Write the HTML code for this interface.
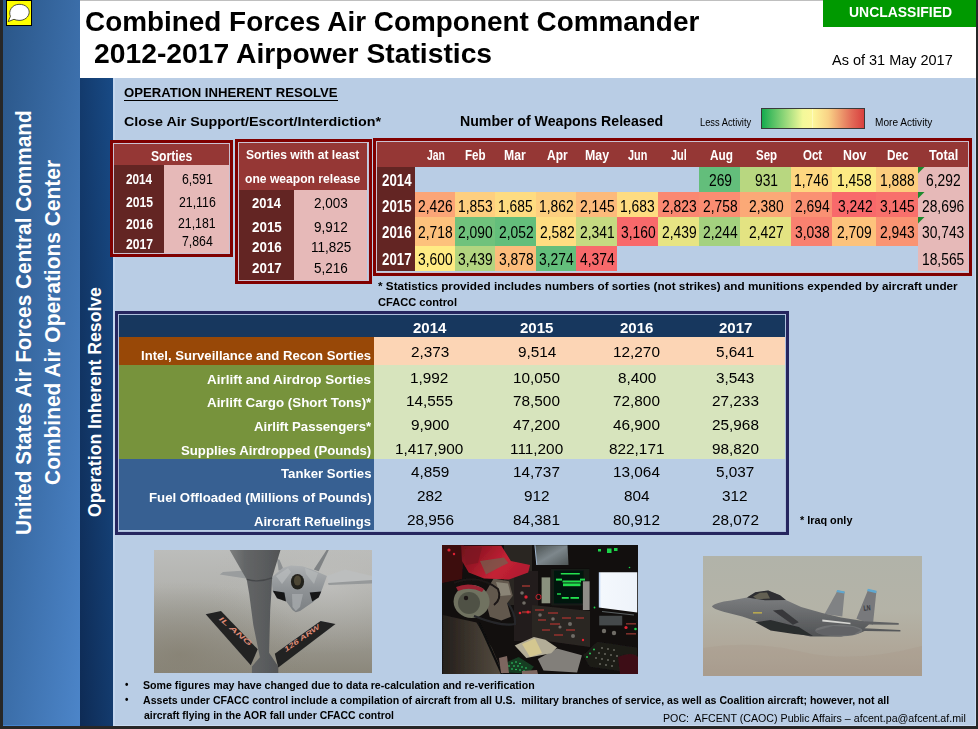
<!DOCTYPE html>
<html lang="en"><head><meta charset="utf-8"><title>Combined Forces Air Component Commander 2012-2017 Airpower Statistics</title>
<style>
html,body{margin:0;padding:0;background:#272727;}
#slide{position:relative;width:978px;height:729px;overflow:hidden;background:#b9cde5;font-family:"Liberation Sans",sans-serif;}
#slide div,#slide svg{position:absolute;}
.t{position:absolute;white-space:pre;line-height:1;transform-origin:0 0;font-family:"Liberation Sans",sans-serif;}
.frame-l{background:#272727;left:0;top:0;width:3px;height:729px;}
.frame-r{background:#272727;left:976px;top:0;width:2px;height:729px;}
.frame-b{background:#272727;left:0;top:726px;width:978px;height:3px;}
.side1{left:3px;top:0;width:77px;height:726px;background:linear-gradient(to bottom right,#2a5688 0%,#4c85c9 100%);}
.side2{left:80px;top:78px;width:33px;height:648px;background:linear-gradient(to top right,#0e2b55 0%,#184a85 100%);}
.hdr{left:80px;top:0;width:896px;height:78px;background:#fff;border-top:1px solid #bfbfbf;box-sizing:border-box;}
.uncl{left:823px;top:0;width:153px;height:27px;background:#009900;}
.note{left:6px;top:0;width:26px;height:26px;}
.box{box-sizing:border-box;border:3px solid #800000;}
.box > .in{left:0;top:0;right:0;bottom:0;border:1px solid #cbc1d1;}
.c{position:absolute;}

</style></head>
<body>
<div id="slide">
<div class="side1"></div><div class="side2"></div>
<div class="c" style="left:113px;top:78px;width:2px;height:648px;background:#c3d6ee"></div>
<div class="hdr"></div><div class="uncl"></div>
<div class="frame-l"></div><div class="frame-r"></div><div class="frame-b"></div>
<svg class="note" viewBox="0 0 26 26" width="26" height="26"><rect x="0.5" y="0.5" width="25" height="25" fill="#ffff00" stroke="#000" stroke-width="1"/><path d="M4.4 16.3 C2.2 11.5 5.5 4.6 13 4.3 C20 4.2 23.3 8.6 23.2 12.3 C23 17 18.5 20.6 13 20.4 C11 20.3 9.3 19.9 8 19.3 L2.2 21.6 Z" fill="#fff" stroke="#222" stroke-width="0.8"/></svg>
<div class="c" style="left:975px;top:78px;width:1px;height:648px;background:#c9dbf1;"></div>
<div class="c" style="left:113px;top:725px;width:863px;height:1px;background:#c9dbf1;"></div>
<div class="c" style="left:3px;top:725px;width:77px;height:1px;background:#4685cf;"></div>
<div class="c" style="left:123.5px;top:100px;width:214px;height:1px;background:#000;"></div>
<div class="c" style="left:761px;top:108px;width:104px;height:21px;box-sizing:border-box;border:1px solid #3a3a3a;background:linear-gradient(90deg,#14ab4e 0%,#4fbf63 10%,#f3f99a 40%,#fdf79b 50%,#f9d286 65%,#e26a57 88%,#d8403f 100%)"></div>
<div class="c" style="left:812px;top:109px;width:1px;height:19px;background:rgba(255,255,255,.35);"></div>
<div class="box" style="left:110px;top:140px;width:123px;height:117px"><div class="in"></div></div>
<div class="c" style="left:114px;top:144px;width:115px;height:21px;background:#953735;"></div>
<div class="c" style="left:114px;top:165px;width:50px;height:88px;background:#632523;"></div>
<div class="c" style="left:164px;top:165px;width:65px;height:88px;background:#e6b9b8;"></div>
<div class="box" style="left:235px;top:139px;width:137px;height:145px"><div class="in"></div></div>
<div class="c" style="left:239px;top:143px;width:128.4px;height:47px;background:#953735;"></div>
<div class="c" style="left:239px;top:190px;width:55px;height:89.6px;background:#632523;"></div>
<div class="c" style="left:294px;top:190px;width:73.4px;height:89.6px;background:#e6b9b8;"></div>
<div class="box" style="left:373px;top:138px;width:599px;height:138px"><div class="in"></div></div>
<div class="c" style="left:377px;top:142px;width:591px;height:25px;background:#953735;"></div>
<div class="c" style="left:377px;top:167px;width:38px;height:104px;background:#632523;"></div>
<div class="c" style="left:699px;top:167px;width:41px;height:25px;background:#63be7b;"></div>
<div class="c" style="left:740px;top:167px;width:51px;height:25px;background:#b8d780;"></div>
<div class="c" style="left:791px;top:167px;width:41px;height:25px;background:#fed780;"></div>
<div class="c" style="left:832px;top:167px;width:44px;height:25px;background:#fcea84;"></div>
<div class="c" style="left:876px;top:167px;width:42px;height:25px;background:#fdcd7e;"></div>
<div class="c" style="left:415px;top:192px;width:40px;height:25px;background:#fba577;"></div>
<div class="c" style="left:455px;top:192px;width:40px;height:25px;background:#fecf7f;"></div>
<div class="c" style="left:495px;top:192px;width:41px;height:25px;background:#fedc81;"></div>
<div class="c" style="left:536px;top:192px;width:40px;height:25px;background:#fdcf7f;"></div>
<div class="c" style="left:576px;top:192px;width:41px;height:25px;background:#fcba7b;"></div>
<div class="c" style="left:617px;top:192px;width:41px;height:25px;background:#fedc81;"></div>
<div class="c" style="left:658px;top:192px;width:41px;height:25px;background:#fa8871;"></div>
<div class="c" style="left:699px;top:192px;width:41px;height:25px;background:#fa8d72;"></div>
<div class="c" style="left:740px;top:192px;width:51px;height:25px;background:#fba977;"></div>
<div class="c" style="left:791px;top:192px;width:41px;height:25px;background:#fa9173;"></div>
<div class="c" style="left:832px;top:192px;width:44px;height:25px;background:#f8696b;"></div>
<div class="c" style="left:876px;top:192px;width:42px;height:25px;background:#f8706c;"></div>
<div class="c" style="left:415px;top:217px;width:40px;height:29px;background:#fdc17c;"></div>
<div class="c" style="left:455px;top:217px;width:40px;height:29px;background:#70c27c;"></div>
<div class="c" style="left:495px;top:217px;width:41px;height:29px;background:#63be7b;"></div>
<div class="c" style="left:536px;top:217px;width:40px;height:29px;background:#fedd81;"></div>
<div class="c" style="left:576px;top:217px;width:41px;height:29px;background:#c5da81;"></div>
<div class="c" style="left:617px;top:217px;width:41px;height:29px;background:#f8696b;"></div>
<div class="c" style="left:658px;top:217px;width:41px;height:29px;background:#e7e483;"></div>
<div class="c" style="left:699px;top:217px;width:41px;height:29px;background:#a4d17f;"></div>
<div class="c" style="left:740px;top:217px;width:51px;height:29px;background:#e3e382;"></div>
<div class="c" style="left:791px;top:217px;width:41px;height:29px;background:#f98170;"></div>
<div class="c" style="left:832px;top:217px;width:44px;height:29px;background:#fdc37c;"></div>
<div class="c" style="left:876px;top:217px;width:42px;height:29px;background:#fa9473;"></div>
<div class="c" style="left:415px;top:246px;width:40px;height:25px;background:#ffeb84;"></div>
<div class="c" style="left:455px;top:246px;width:40px;height:25px;background:#b2d580;"></div>
<div class="c" style="left:495px;top:246px;width:41px;height:25px;background:#fcbc7b;"></div>
<div class="c" style="left:536px;top:246px;width:40px;height:25px;background:#63be7b;"></div>
<div class="c" style="left:576px;top:246px;width:41px;height:25px;background:#f8696b;"></div>
<div class="c" style="left:918px;top:167px;width:50px;height:104px;background:#e6b9b8;"></div>
<svg class="c" style="left:918px;top:167px" width="7" height="7" viewBox="0 0 7 7"><path d="M0 0H6.5L0 6.5Z" fill="#1e8a2e"/></svg>
<svg class="c" style="left:918px;top:192px" width="7" height="7" viewBox="0 0 7 7"><path d="M0 0H6.5L0 6.5Z" fill="#1e8a2e"/></svg>
<svg class="c" style="left:918px;top:217px" width="7" height="7" viewBox="0 0 7 7"><path d="M0 0H6.5L0 6.5Z" fill="#1e8a2e"/></svg>
<div class="box" style="left:115px;top:311px;width:674px;height:224px;border-color:#26265f"><div class="in" style="border-color:#aebfdc"></div></div>
<div class="c" style="left:119px;top:315px;width:666px;height:22px;background:#17375e;"></div>
<div class="c" style="left:119px;top:337px;width:255px;height:27.5px;background:#984807;"></div>
<div class="c" style="left:374px;top:337px;width:411px;height:27.5px;background:#fcd5b5;"></div>
<div class="c" style="left:119px;top:364.5px;width:255px;height:94.3px;background:#77933c;"></div>
<div class="c" style="left:374px;top:364.5px;width:411px;height:94.3px;background:#d7e4bd;"></div>
<div class="c" style="left:119px;top:458.8px;width:255px;height:71.7px;background:#376092;"></div><!-- photo 1 : tanker boom + F-22 -->
<svg class="c" style="left:154px;top:550px" width="218" height="123" viewBox="0 0 218 123">
<defs>
<linearGradient id="p1a" x1="0" y1="0" x2="0" y2="1"><stop offset="0" stop-color="#bcbdbb"/><stop offset=".3" stop-color="#b3b3af"/><stop offset=".55" stop-color="#a3a29b"/><stop offset="1" stop-color="#8b877b"/></linearGradient>
<radialGradient id="p1b" cx=".8" cy=".3" r=".55"><stop offset="0" stop-color="#c4c4c2" stop-opacity=".6"/><stop offset="1" stop-color="#b4b4b0" stop-opacity="0"/></radialGradient>
<radialGradient id="p1e" cx=".12" cy=".85" r=".6"><stop offset="0" stop-color="#827c6d" stop-opacity=".6"/><stop offset="1" stop-color="#8a877c" stop-opacity="0"/></radialGradient>
<linearGradient id="p1c" x1="0" y1="0" x2="1" y2="0"><stop offset="0" stop-color="#7e8080"/><stop offset=".3" stop-color="#646667"/><stop offset="1" stop-color="#525456"/></linearGradient>
<linearGradient id="p1d" x1="0" y1="0" x2="0" y2="1"><stop offset="0" stop-color="#adb0b2"/><stop offset=".5" stop-color="#8f9396"/><stop offset="1" stop-color="#7b7f82"/></linearGradient>
<filter id="bl1" x="-5%" y="-5%" width="110%" height="110%"><feGaussianBlur stdDeviation="0.55"/></filter>
</defs>
<rect width="218" height="123" fill="url(#p1a)"/>
<rect width="218" height="123" fill="url(#p1b)"/>
<rect width="218" height="123" fill="url(#p1e)"/>
<g filter="url(#bl1)">
<!-- F-22 -->
<path d="M65.7 24.5 L69 22 L95 20.2 L95 29Z" fill="#9a9d9e"/>
<path d="M172.9 26.1 L190.9 19.5 L218 26.1 L218 33.5 L174.6 34.3Z" fill="#bcbebe"/>
<path d="M174 33 L218 30 L218 33.5 L174.6 35Z" fill="#96999a"/>
<path d="M123 8.9 L125.5 9.7 L129.6 19.5 L124.6 20.4Z" fill="#8d9092"/>
<path d="M172.9 -0.6 L174.8 0 L164.7 21.2 L159.8 19.5Z" fill="#7f8284"/>
<path d="M117.3 27.7 L128.7 17.9 L136.9 15.5 L148.4 16.3 L158.2 19.5 L172.9 26.1 L166.4 44.1 L159.8 51.5 L146 61 L141.8 62.3 L138.5 60 L130.4 49 L118.9 42.5Z" fill="url(#p1d)"/>
<path d="M118.9 40.8 L130.4 42.5 L132 51.5 L123 48.2Z" fill="#141517"/>
<path d="M155.7 42.5 L167.2 41.6 L164.7 47.4 L158.2 51.5Z" fill="#141517"/>
<ellipse cx="143.5" cy="31.8" rx="6.6" ry="7.8" fill="#24221d"/>
<ellipse cx="143.5" cy="30.6" rx="3.6" ry="5" fill="#4d4635"/>
<path d="M138 44 L149 44 L146 57 L141.8 61 L138.5 57Z" fill="#a4a8aa" opacity=".85"/><path d="M122 26 L134 18 L137 22 L128 34Z" fill="#b9bcbd" opacity=".7"/><path d="M151 18 L164 23 L160 34 L152 24Z" fill="#b9bcbd" opacity=".6"/>
<!-- boom -->
<path d="M75.1 -1 L126.8 -1 L121 18 L118.1 27.7 L117.3 44 L116.2 60 L115.1 102.7 L124.3 116.4 L124.3 123 L97.9 123 L97.9 116.4 L105.9 107.3 L99.3 75 L95.2 44 L92.7 29.4 L86 18Z" fill="url(#p1c)"/>
<path d="M92.7 29.4 Q105 33 118.1 27.9" stroke="#45474a" stroke-width="1.2" fill="none"/>
<!-- fins -->
<path d="M51.7 64.2 L67 61 L103.7 99.2 L96.8 115.3Z" fill="#212224"/>
<path d="M120.8 103.8 L166.6 71.1 L181.5 74 L124.3 117.6Z" fill="#212224"/>
</g>
<text transform="translate(64.5 69.5) rotate(41)" font-family="Liberation Sans, sans-serif" font-size="6.8" font-style="italic" font-weight="700" fill="#dc8a76" textLength="41" lengthAdjust="spacingAndGlyphs">IL  ANG</text>
<text transform="translate(132 102) rotate(-35)" font-family="Liberation Sans, sans-serif" font-size="6.8" font-style="italic" font-weight="700" fill="#dc8a76" textLength="42" lengthAdjust="spacingAndGlyphs">126 ARW</text>
</svg>
<!-- photo 2 : cockpit -->
<svg class="c" style="left:442px;top:545px" width="196" height="129" viewBox="0 0 196 129">
<defs>
<linearGradient id="p2a" x1="0" y1="0" x2="1" y2=".4"><stop offset="0" stop-color="#6a111b"/><stop offset=".35" stop-color="#9c1827"/><stop offset=".7" stop-color="#c52236"/><stop offset="1" stop-color="#b41d30"/></linearGradient>
<linearGradient id="p2b" x1="0" y1="0" x2="1" y2="0"><stop offset="0" stop-color="#b9d2f4"/><stop offset=".06" stop-color="#f4f8fd"/><stop offset="1" stop-color="#eef3fa"/></linearGradient>
<linearGradient id="p2c" x1="0" y1="0" x2="1" y2="0"><stop offset="0" stop-color="#241f1b"/><stop offset="1" stop-color="#564d41"/></linearGradient>
<linearGradient id="p2d" x1="0" y1="0" x2="1" y2="1"><stop offset="0" stop-color="#4a5050"/><stop offset=".5" stop-color="#7d878c"/><stop offset="1" stop-color="#4f5656"/></linearGradient>
<filter id="bl2" x="-5%" y="-5%" width="110%" height="110%"><feGaussianBlur stdDeviation="0.6"/></filter>
</defs>
<rect width="196" height="129" fill="#120f0e"/>
<g filter="url(#bl2)">
<rect x="62" y="0" width="28" height="60" fill="#2a2622"/>
<path d="M0 0 L22 0 L20 34 L0 38Z" fill="#3d0c11"/>
<rect x="72" y="26" width="24" height="70" fill="#231c1a"/>
<path d="M90 60 L148 66 L148 102 L90 94Z" fill="#2c2522"/>
<path d="M0.8 69.9 L34.4 77.5 L49.7 102.5 L61.2 129 L0.8 129Z" fill="url(#p2c)"/>
<path d="M51.6 33.4 L67 36.3 L70.8 50.7 L65.1 58.3 L68.9 71.8 L59.3 75.6 L47.8 71.8 L42 50Z" fill="#62584e"/>
<path d="M54 37 L66 38.5 L69 50 L58 51Z" fill="#8a8476"/>
<path d="M19 0.8 L59.3 0.8 L68.9 16.1 L88.1 20 L86.2 27.6 L67 34.4 L42 33.4 L26.7 27.6 L20 16.1Z" fill="url(#p2a)"/>
<path d="M38 16 L62 12.5 L66.5 18 L60 21 L44 29.5Z" fill="#6e6450" opacity=".7"/>
<path d="M22 4 L40 2 L36 18 L24 20Z" fill="#7d1320" opacity=".8"/>
<path d="M12 38 Q36 28 56 44 Q60 54 52 60" fill="none" stroke="#1a1514" stroke-width="2"/>
<ellipse cx="29.6" cy="56.4" rx="18" ry="16.5" fill="#6f7260"/>
<ellipse cx="27" cy="58" rx="11" ry="11" fill="#4f5145"/>
<path d="M14 42 Q28 36 42 44 L40 47 Q28 41 16 46Z" fill="#9a2030"/>
<circle cx="24" cy="53" r="2.2" fill="#1c1414"/>
<path d="M32 71 Q60 82 73 79 Q74 70 66 58" fill="none" stroke="#26282a" stroke-width="2.2"/>
<path d="M37 78 L60 129" stroke="#0e0e0e" stroke-width="2.2"/>
<!-- monitors -->
<path d="M92.9 0.2 L125.5 0.2 L126.5 20 L94.8 20Z" fill="url(#p2d)"/>
<path d="M92.9 0.2 L94.8 20" stroke="#9fb6d0" stroke-width="1"/>
<rect x="109.2" y="23.8" width="38.4" height="36.5" fill="#161a17"/>
<rect x="112" y="25.7" width="29.8" height="32.6" fill="#04120a"/>
<g fill="#22e050"><rect x="118.800" y="28" width="19" height="1.500"/><rect x="114" y="33.600" width="6" height="2"/><rect x="138" y="33.600" width="5" height="2"/><rect x="120.500" y="35.500" width="18.500" height="2"/><rect x="121" y="38.400" width="17.500" height="2.800"/><rect x="115" y="48.300" width="4" height="1.400"/><rect x="119.800" y="52" width="7" height="1.800"/><rect x="128.500" y="52" width="8.500" height="1.800"/></g>
<rect x="99.600" y="32.400" width="8.600" height="25.900" fill="#8a917e"/>
<rect x="140.900" y="36.300" width="6.700" height="28.700" fill="#8f8d88"/>
<path d="M156.800 27.200 L195.200 27.200 L195.200 67.600 L156.800 62.600Z" fill="url(#p2b)"/>
<rect x="157.200" y="70.800" width="23" height="9.600" fill="#444a4b"/>
<path d="M160 66.500 L192 70" stroke="#5a6062" stroke-width="1.200"/>
<!-- panel details -->
<g fill="#7a2f2a"><rect x="93" y="64" width="9" height="2"/><rect x="106" y="67" width="10" height="2"/><rect x="120" y="72" width="9" height="2"/><rect x="134" y="72" width="8" height="2"/><rect x="96" y="74" width="8" height="2"/><rect x="108" y="78" width="10" height="2"/><rect x="124" y="84" width="9" height="2"/><rect x="100" y="84" width="8" height="2"/><rect x="112" y="89" width="9" height="2"/><rect x="80" y="40" width="8" height="2"/><rect x="80" y="66" width="9" height="2.200"/><rect x="184" y="78" width="10" height="1.600"/><rect x="184" y="88" width="10" height="1.600"/></g>
<g fill="#6f6c66"><circle cx="98" cy="70" r="1.800"/><circle cx="111" cy="74" r="1.800"/><circle cx="128" cy="79" r="2"/><circle cx="131" cy="91" r="2"/><circle cx="118" cy="82" r="1.600"/><circle cx="162" cy="86" r="2.200"/><circle cx="172" cy="88" r="2.200"/><circle cx="80" cy="48" r="1.800"/><circle cx="82" cy="58" r="1.800"/></g>
<g fill="#e02230"><circle cx="7" cy="5" r="1.600"/><circle cx="12" cy="9" r="1.200"/><circle cx="84" cy="52" r="1.700"/><circle cx="86" cy="67" r="1.500"/><circle cx="78" cy="68" r="1.300"/><circle cx="141" cy="95" r="1.200"/><circle cx="184" cy="82.500" r="1.600"/></g>
<circle cx="96.500" cy="52" r="2.600" fill="none" stroke="#c42430" stroke-width="1"/>
<g fill="#1fd44a"><rect x="156" y="4" width="3" height="2.500"/><rect x="165" y="3.500" width="4.500" height="4.500"/><rect x="172" y="3" width="3.500" height="3"/><circle cx="152.500" cy="62.500" r=".9"/><circle cx="193.500" cy="84" r="1.300"/><circle cx="187.500" cy="22.500" r=".8"/></g>
<!-- papers -->
<path d="M95.800 114 L115 103.400 L139.900 110.200 L135.100 127.400 L101.500 125.500Z" fill="#827f7a"/>
<path d="M72.700 100.600 L91.900 91.900 L103.400 94.800 L115 102.500 L109.200 108.200 L84.300 113Z" fill="#b3ad98"/>
<path d="M80 99 L93 93.500 L100 108 L88 112Z" fill="#dccd8e" opacity=".8"/>
<!-- keyboard + hand -->
<path d="M63.100 117.900 L76.600 112.100 L91.900 121.700 L86.200 128.600 L65.100 127.600Z" fill="#143d22"/>
<g fill="#3ae070"><circle cx="70" cy="118" r=".8"/><circle cx="74" cy="117" r=".8"/><circle cx="78" cy="118.500" r=".8"/><circle cx="72" cy="121" r=".8"/><circle cx="76" cy="121" r=".8"/><circle cx="80" cy="122" r=".8"/><circle cx="84" cy="123" r=".8"/><circle cx="70" cy="124" r=".8"/><circle cx="74" cy="124.500" r=".8"/><circle cx="78" cy="125" r=".8"/><circle cx="82" cy="126" r=".8"/><circle cx="67" cy="121" r=".8"/></g>
<path d="M57 113 L65 111 L67 128 L59 128Z" fill="#7d665e"/>
<path d="M80 126 L95 125 L96 129 L80 129Z" fill="#7d665e"/>
<!-- keypad -->
<path d="M140.900 110.200 L155.300 96.700 L195.200 102.500 L195.200 128.600 L147.600 121.700Z" fill="#1b1a19"/>
<g fill="#67675c"><circle cx="160" cy="103" r="1"/><circle cx="166" cy="104" r="1"/><circle cx="172" cy="105" r="1"/><circle cx="157" cy="108" r="1"/><circle cx="163" cy="109" r="1"/><circle cx="169" cy="110" r="1"/><circle cx="175" cy="111" r="1"/><circle cx="154" cy="113" r="1"/><circle cx="160" cy="114" r="1"/><circle cx="166" cy="115" r="1"/><circle cx="172" cy="116" r="1"/><circle cx="158" cy="119" r="1"/><circle cx="164" cy="120" r="1"/><circle cx="170" cy="121" r="1"/></g>
<g fill="#2cc855"><circle cx="152" cy="104.500" r="1"/><circle cx="148" cy="108.500" r="1"/><circle cx="145" cy="112" r="1"/></g>
<path d="M176 112 Q190 106 196 112 L196 129 L178 129Z" fill="#3c1016"/>
</g>
</svg>
<!-- photo 3 : F-15E -->
<svg class="c" style="left:703px;top:556px" width="219" height="120" viewBox="0 0 219 120">
<defs>
<linearGradient id="p3a" x1="0" y1="0" x2="0" y2="1"><stop offset="0" stop-color="#b1b3a9"/><stop offset=".45" stop-color="#b4b3a7"/><stop offset=".75" stop-color="#b0a89a"/><stop offset="1" stop-color="#aa9f91"/></linearGradient>
<linearGradient id="p3b" x1="0" y1="0" x2="0" y2="1"><stop offset="0" stop-color="#828486"/><stop offset=".5" stop-color="#696b6d"/><stop offset="1" stop-color="#505254"/></linearGradient>
<filter id="bl3" x="-5%" y="-5%" width="110%" height="110%"><feGaussianBlur stdDeviation="0.5"/></filter>
</defs>
<rect width="219" height="120" fill="url(#p3a)"/>
<path d="M0 92 Q50 84 100 96 T219 90 L219 120 L0 120Z" fill="#a39384" opacity=".2"/>
<g filter="url(#bl3)">
<path d="M121.600 58.100 L134.600 34.600 L141.600 35.800 L139.300 60.500Z" fill="#808284"/>
<path d="M153.400 62.800 L165.200 33.400 L173.400 35.300 L169.900 68.700Z" fill="#78797b"/>
<path d="M134.300 34 L141.700 35.400 L141.400 37.600 L133.300 36Z" fill="#5fa8d0"/>
<path d="M164.900 32.800 L173.600 34.800 L173.200 37.200 L164.100 35.100Z" fill="#5fa8d0"/>
<path d="M8.800 50.300 Q12 46.500 28 44.500 L44 41.600 L52.300 36.200 L65.200 34.600 L77 39.300 L82.800 44 L98.100 51 L119.300 56.900 L138.100 61.600 L161.600 65.200 L195.700 67 L195.700 68.700 L166 68.600 L161.600 72.200 L197.400 74.100 L197.400 75.500 L161.600 74.900 L156.900 76.900 L138.100 80.400 L107.500 80.400 L91.100 76.900 L67.600 71 L53.400 65.200 L39.300 60.500 L20.500 55.800 Q10 53 8.800 50.300Z" fill="url(#p3b)"/>
<path d="M44 41.600 L52.300 36.200 L65.200 34.600 L77 39.300 L82.800 44 L62 44.300Z" fill="#2d2e30"/>
<path d="M50 40.500 L57 36.800 L64 36.500 L67 42.500 L54 43.200Z" fill="#77735f" opacity=".75"/>
<path d="M52.300 66.300 L67.600 64 L95.800 71 L110 80 L91.100 78 L67.600 74.600Z" fill="#2c2d2f"/>
<path d="M69.900 54.600 L79.300 53.400 L95.800 66.300 L89.900 68.700Z" fill="#37383a"/>
<ellipse cx="135.800" cy="74.600" rx="23.500" ry="5.900" fill="#6f7173"/>
<path d="M112 75 L130 70 L150 71 L158 74 L150 79 L120 80Z" fill="#5a5c5e" opacity=".6"/>
<path d="M119.300 63.600 L147.500 66.800 L147.500 68.300 L119.300 65.600Z" fill="#d6d6d2"/>
<rect x="50" y="56.200" width="9" height="1.300" fill="#c9b64a"/>
</g>
<text x="160.800" y="54.800" font-family="Liberation Sans, sans-serif" font-size="7.500" font-weight="700" fill="#35373a" transform="rotate(-6 161 55)" textLength="7" lengthAdjust="spacingAndGlyphs">LN</text>
</svg>

<span class="t" style="font-size:28.3px;color:#000;font-weight:700;left:85.41px;top:7.14px;transform:scaleX(0.9858);">Combined Forces Air Component Commander</span>
<span class="t" style="font-size:28.3px;color:#000;font-weight:700;left:94.20px;top:39.04px;transform:scaleX(0.9991);">2012-2017 Airpower Statistics</span>
<span class="t" style="font-size:14.8px;color:#fff;font-weight:700;left:848.50px;top:5.27px;transform:scaleX(0.9421);">UNCLASSIFIED</span>
<span class="t" style="font-size:14.2px;color:#000;left:831.60px;top:52.98px;transform:scaleX(1.0202);">As of 31 May 2017</span>
<span class="t" style="font-size:12.9px;color:#000;font-weight:700;left:123.50px;top:86.58px;transform:scaleX(1.0197);">OPERATION INHERENT RESOLVE</span>
<span class="t" style="font-size:13.7px;color:#000;font-weight:700;left:123.50px;top:114.80px;transform:scaleX(1.0454);">Close Air Support/Escort/Interdiction*</span>
<span class="t" style="font-size:13.9px;color:#000;font-weight:700;left:459.50px;top:115.43px;transform:scaleX(1.0177);">Number of Weapons Released</span>
<span class="t" style="font-size:10.4px;color:#000;left:699.70px;top:117.89px;transform:scaleX(0.8950);">Less Activity</span>
<span class="t" style="font-size:10.4px;color:#000;left:874.80px;top:117.89px;transform:scaleX(0.9723);">More Activity</span>
<span class="t" style="font-size:14.5px;color:#fff;font-weight:700;left:150.70px;top:148.82px;transform:scaleX(0.8392);">Sorties</span>
<span class="t" style="font-size:14.75px;color:#fff;font-weight:700;left:126.10px;top:171.51px;transform:scaleX(0.7974);">2014</span>
<span class="t" style="font-size:14.75px;color:#fff;font-weight:700;left:126.10px;top:195.01px;transform:scaleX(0.8218);">2015</span>
<span class="t" style="font-size:14.75px;color:#fff;font-weight:700;left:126.10px;top:217.21px;transform:scaleX(0.8218);">2016</span>
<span class="t" style="font-size:14.75px;color:#fff;font-weight:700;left:126.10px;top:236.51px;transform:scaleX(0.8218);">2017</span>
<span class="t" style="font-size:14.75px;color:#000;left:181.77px;top:171.51px;transform:scaleX(0.8350);">6,591</span>
<span class="t" style="font-size:14.75px;color:#000;left:178.81px;top:195.01px;transform:scaleX(0.8350);">21,116</span>
<span class="t" style="font-size:14.75px;color:#000;left:178.35px;top:215.51px;transform:scaleX(0.8350);">21,181</span>
<span class="t" style="font-size:14.75px;color:#000;left:181.77px;top:234.31px;transform:scaleX(0.8350);">7,864</span>
<span class="t" style="font-size:13.6px;color:#fff;font-weight:700;left:245.80px;top:148.38px;transform:scaleX(0.8881);">Sorties with at least</span>
<span class="t" style="font-size:13.6px;color:#fff;font-weight:700;left:244.90px;top:172.18px;transform:scaleX(0.8910);">one weapon release</span>
<span class="t" style="font-size:14.9px;color:#fff;font-weight:700;left:251.90px;top:196.18px;transform:scaleX(0.8716);">2014</span>
<span class="t" style="font-size:14.9px;color:#fff;font-weight:700;left:251.90px;top:220.38px;transform:scaleX(0.8982);">2015</span>
<span class="t" style="font-size:14.9px;color:#fff;font-weight:700;left:251.90px;top:240.28px;transform:scaleX(0.8982);">2016</span>
<span class="t" style="font-size:14.9px;color:#fff;font-weight:700;left:251.90px;top:261.08px;transform:scaleX(0.8982);">2017</span>
<span class="t" style="font-size:14.9px;color:#000;left:314.47px;top:196.18px;transform:scaleX(0.9050);">2,003</span>
<span class="t" style="font-size:14.9px;color:#000;left:314.47px;top:220.38px;transform:scaleX(0.9050);">9,912</span>
<span class="t" style="font-size:14.9px;color:#000;left:310.77px;top:240.28px;transform:scaleX(0.9050);">11,825</span>
<span class="t" style="font-size:14.9px;color:#000;left:314.47px;top:261.08px;transform:scaleX(0.9050);">5,216</span>
<span class="t" style="font-size:14.2px;color:#fff;font-weight:700;left:426.90px;top:147.88px;transform:scaleX(0.7359);">Jan</span>
<span class="t" style="font-size:14.2px;color:#fff;font-weight:700;left:465.20px;top:147.88px;transform:scaleX(0.8178);">Feb</span>
<span class="t" style="font-size:14.2px;color:#fff;font-weight:700;left:504.40px;top:147.88px;transform:scaleX(0.8596);">Mar</span>
<span class="t" style="font-size:14.2px;color:#fff;font-weight:700;left:546.50px;top:147.88px;transform:scaleX(0.8430);">Apr</span>
<span class="t" style="font-size:14.2px;color:#fff;font-weight:700;left:585.00px;top:147.88px;transform:scaleX(0.8734);">May</span>
<span class="t" style="font-size:14.2px;color:#fff;font-weight:700;left:628.00px;top:147.88px;transform:scaleX(0.7656);">Jun</span>
<span class="t" style="font-size:14.2px;color:#fff;font-weight:700;left:671.10px;top:147.88px;transform:scaleX(0.7721);">Jul</span>
<span class="t" style="font-size:14.2px;color:#fff;font-weight:700;left:709.60px;top:147.88px;transform:scaleX(0.8323);">Aug</span>
<span class="t" style="font-size:14.2px;color:#fff;font-weight:700;left:756.20px;top:147.88px;transform:scaleX(0.8082);">Sep</span>
<span class="t" style="font-size:14.2px;color:#fff;font-weight:700;left:803.20px;top:147.88px;transform:scaleX(0.8108);">Oct</span>
<span class="t" style="font-size:14.2px;color:#fff;font-weight:700;left:843.40px;top:147.88px;transform:scaleX(0.8695);">Nov</span>
<span class="t" style="font-size:14.2px;color:#fff;font-weight:700;left:886.70px;top:147.88px;transform:scaleX(0.8264);">Dec</span>
<span class="t" style="font-size:14.2px;color:#fff;font-weight:700;left:929.00px;top:147.88px;transform:scaleX(0.8905);">Total</span>
<span class="t" style="font-size:15.8px;color:#fff;font-weight:700;left:381.90px;top:172.82px;transform:scaleX(0.8400);">2014</span>
<span class="t" style="font-size:15.8px;color:#fff;font-weight:700;left:381.90px;top:198.92px;transform:scaleX(0.8400);">2015</span>
<span class="t" style="font-size:15.8px;color:#fff;font-weight:700;left:381.90px;top:224.62px;transform:scaleX(0.8400);">2016</span>
<span class="t" style="font-size:15.8px;color:#fff;font-weight:700;left:381.90px;top:251.62px;transform:scaleX(0.8400);">2017</span>
<span class="t" style="font-size:15.8px;color:#000;left:708.58px;top:172.82px;transform:scaleX(0.8750);">269</span>
<span class="t" style="font-size:15.8px;color:#000;left:754.58px;top:172.82px;transform:scaleX(0.8750);">931</span>
<span class="t" style="font-size:15.8px;color:#000;left:794.47px;top:172.82px;transform:scaleX(0.8750);">1,746</span>
<span class="t" style="font-size:15.8px;color:#000;left:837.02px;top:172.82px;transform:scaleX(0.8750);">1,458</span>
<span class="t" style="font-size:15.8px;color:#000;left:879.57px;top:172.82px;transform:scaleX(0.8750);">1,888</span>
<span class="t" style="font-size:15.8px;color:#000;left:926.40px;top:172.82px;transform:scaleX(0.8750);">6,292</span>
<span class="t" style="font-size:15.8px;color:#000;left:418.21px;top:198.92px;transform:scaleX(0.8750);">2,426</span>
<span class="t" style="font-size:15.8px;color:#000;left:457.77px;top:198.92px;transform:scaleX(0.8750);">1,853</span>
<span class="t" style="font-size:15.8px;color:#000;left:498.27px;top:198.92px;transform:scaleX(0.8750);">1,685</span>
<span class="t" style="font-size:15.8px;color:#000;left:539.21px;top:198.92px;transform:scaleX(0.8750);">1,862</span>
<span class="t" style="font-size:15.8px;color:#000;left:579.51px;top:198.92px;transform:scaleX(0.8750);">2,145</span>
<span class="t" style="font-size:15.8px;color:#000;left:620.07px;top:198.92px;transform:scaleX(0.8750);">1,683</span>
<span class="t" style="font-size:15.8px;color:#000;left:661.71px;top:198.92px;transform:scaleX(0.8750);">2,823</span>
<span class="t" style="font-size:15.8px;color:#000;left:702.81px;top:198.92px;transform:scaleX(0.8750);">2,758</span>
<span class="t" style="font-size:15.8px;color:#000;left:748.81px;top:198.92px;transform:scaleX(0.8750);">2,380</span>
<span class="t" style="font-size:15.8px;color:#000;left:794.91px;top:198.92px;transform:scaleX(0.8750);">2,694</span>
<span class="t" style="font-size:15.8px;color:#000;left:837.90px;top:198.92px;transform:scaleX(0.8750);">3,242</span>
<span class="t" style="font-size:15.8px;color:#000;left:880.01px;top:198.92px;transform:scaleX(0.8750);">3,145</span>
<span class="t" style="font-size:15.8px;color:#000;left:922.12px;top:198.92px;transform:scaleX(0.8750);">28,696</span>
<span class="t" style="font-size:15.8px;color:#000;left:418.21px;top:224.62px;transform:scaleX(0.8750);">2,718</span>
<span class="t" style="font-size:15.8px;color:#000;left:458.21px;top:224.62px;transform:scaleX(0.8750);">2,090</span>
<span class="t" style="font-size:15.8px;color:#000;left:499.15px;top:224.62px;transform:scaleX(0.8750);">2,052</span>
<span class="t" style="font-size:15.8px;color:#000;left:539.65px;top:224.62px;transform:scaleX(0.8750);">2,582</span>
<span class="t" style="font-size:15.8px;color:#000;left:579.51px;top:224.62px;transform:scaleX(0.8750);">2,341</span>
<span class="t" style="font-size:15.8px;color:#000;left:620.51px;top:224.62px;transform:scaleX(0.8750);">3,160</span>
<span class="t" style="font-size:15.8px;color:#000;left:661.71px;top:224.62px;transform:scaleX(0.8750);">2,439</span>
<span class="t" style="font-size:15.8px;color:#000;left:702.81px;top:224.62px;transform:scaleX(0.8750);">2,244</span>
<span class="t" style="font-size:15.8px;color:#000;left:749.25px;top:224.62px;transform:scaleX(0.8750);">2,427</span>
<span class="t" style="font-size:15.8px;color:#000;left:794.91px;top:224.62px;transform:scaleX(0.8750);">3,038</span>
<span class="t" style="font-size:15.8px;color:#000;left:837.46px;top:224.62px;transform:scaleX(0.8750);">2,709</span>
<span class="t" style="font-size:15.8px;color:#000;left:880.01px;top:224.62px;transform:scaleX(0.8750);">2,943</span>
<span class="t" style="font-size:15.8px;color:#000;left:922.12px;top:224.62px;transform:scaleX(0.8750);">30,743</span>
<span class="t" style="font-size:15.8px;color:#000;left:418.21px;top:251.62px;transform:scaleX(0.8750);">3,600</span>
<span class="t" style="font-size:15.8px;color:#000;left:458.21px;top:251.62px;transform:scaleX(0.8750);">3,439</span>
<span class="t" style="font-size:15.8px;color:#000;left:498.71px;top:251.62px;transform:scaleX(0.8750);">3,878</span>
<span class="t" style="font-size:15.8px;color:#000;left:539.21px;top:251.62px;transform:scaleX(0.8750);">3,274</span>
<span class="t" style="font-size:15.8px;color:#000;left:579.51px;top:251.62px;transform:scaleX(0.8750);">4,374</span>
<span class="t" style="font-size:15.8px;color:#000;left:921.68px;top:251.62px;transform:scaleX(0.8750);">18,565</span>
<span class="t" style="font-size:11.8px;color:#000;font-weight:700;left:377.70px;top:280.81px;transform:scaleX(0.9935);">* Statistics provided includes numbers of sorties (not strikes) and munitions expended by aircraft under</span>
<span class="t" style="font-size:11.8px;color:#000;font-weight:700;left:377.70px;top:296.61px;transform:scaleX(0.9413);">CFACC control</span>
<span class="t" style="font-size:15.2px;color:#fff;font-weight:700;left:413.00px;top:320.33px;transform:scaleX(0.9900);">2014</span>
<span class="t" style="font-size:15.2px;color:#fff;font-weight:700;left:519.60px;top:320.33px;transform:scaleX(0.9900);">2015</span>
<span class="t" style="font-size:15.2px;color:#fff;font-weight:700;left:620.30px;top:320.33px;transform:scaleX(0.9900);">2016</span>
<span class="t" style="font-size:15.2px;color:#fff;font-weight:700;left:718.50px;top:320.33px;transform:scaleX(0.9900);">2017</span>
<span class="t" style="font-size:12.6px;color:#fff;font-weight:700;left:141.40px;top:350.03px;transform:scaleX(1.0404);">Intel, Surveillance and Recon Sorties</span>
<span class="t" style="font-size:14.75px;color:#000;left:410.91px;top:344.91px;transform:scaleX(1.0400);">2,373</span>
<span class="t" style="font-size:14.75px;color:#000;left:517.51px;top:344.91px;transform:scaleX(1.0400);">9,514</span>
<span class="t" style="font-size:14.75px;color:#000;left:612.93px;top:344.91px;transform:scaleX(1.0400);">12,270</span>
<span class="t" style="font-size:14.75px;color:#000;left:715.91px;top:344.91px;transform:scaleX(1.0400);">5,641</span>
<span class="t" style="font-size:12.6px;color:#fff;font-weight:700;left:207.10px;top:373.73px;transform:scaleX(1.0680);">Airlift and Airdrop Sorties</span>
<span class="t" style="font-size:14.75px;color:#000;left:410.39px;top:370.61px;transform:scaleX(1.0400);">1,992</span>
<span class="t" style="font-size:14.75px;color:#000;left:512.73px;top:370.61px;transform:scaleX(1.0400);">10,050</span>
<span class="t" style="font-size:14.75px;color:#000;left:617.71px;top:370.61px;transform:scaleX(1.0400);">8,400</span>
<span class="t" style="font-size:14.75px;color:#000;left:715.91px;top:370.61px;transform:scaleX(1.0400);">3,543</span>
<span class="t" style="font-size:12.6px;color:#fff;font-weight:700;left:207.10px;top:396.73px;transform:scaleX(1.0594);">Airlift Cargo (Short Tons)*</span>
<span class="t" style="font-size:14.75px;color:#000;left:406.13px;top:394.41px;transform:scaleX(1.0400);">14,555</span>
<span class="t" style="font-size:14.75px;color:#000;left:513.25px;top:394.41px;transform:scaleX(1.0400);">78,500</span>
<span class="t" style="font-size:14.75px;color:#000;left:613.45px;top:394.41px;transform:scaleX(1.0400);">72,800</span>
<span class="t" style="font-size:14.75px;color:#000;left:711.65px;top:394.41px;transform:scaleX(1.0400);">27,233</span>
<span class="t" style="font-size:12.6px;color:#fff;font-weight:700;left:254.30px;top:420.73px;transform:scaleX(1.0456);">Airlift Passengers*</span>
<span class="t" style="font-size:14.75px;color:#000;left:410.91px;top:417.91px;transform:scaleX(1.0400);">9,900</span>
<span class="t" style="font-size:14.75px;color:#000;left:513.25px;top:417.91px;transform:scaleX(1.0400);">47,200</span>
<span class="t" style="font-size:14.75px;color:#000;left:613.45px;top:417.91px;transform:scaleX(1.0400);">46,900</span>
<span class="t" style="font-size:14.75px;color:#000;left:711.65px;top:417.91px;transform:scaleX(1.0400);">25,968</span>
<span class="t" style="font-size:12.6px;color:#fff;font-weight:700;left:181.00px;top:444.73px;transform:scaleX(1.0483);">Supplies Airdropped (Pounds)</span>
<span class="t" style="font-size:14.75px;color:#000;left:395.46px;top:441.51px;transform:scaleX(1.0400);">1,417,900</span>
<span class="t" style="font-size:14.75px;color:#000;left:509.60px;top:441.51px;transform:scaleX(1.0400);">111,200</span>
<span class="t" style="font-size:14.75px;color:#000;left:609.18px;top:441.51px;transform:scaleX(1.0400);">822,171</span>
<span class="t" style="font-size:14.75px;color:#000;left:711.65px;top:441.51px;transform:scaleX(1.0400);">98,820</span>
<span class="t" style="font-size:12.6px;color:#fff;font-weight:700;left:281.00px;top:468.13px;transform:scaleX(1.0456);">Tanker Sorties</span>
<span class="t" style="font-size:14.75px;color:#000;left:410.91px;top:465.11px;transform:scaleX(1.0400);">4,859</span>
<span class="t" style="font-size:14.75px;color:#000;left:512.73px;top:465.11px;transform:scaleX(1.0400);">14,737</span>
<span class="t" style="font-size:14.75px;color:#000;left:612.93px;top:465.11px;transform:scaleX(1.0400);">13,064</span>
<span class="t" style="font-size:14.75px;color:#000;left:715.91px;top:465.11px;transform:scaleX(1.0400);">5,037</span>
<span class="t" style="font-size:12.6px;color:#fff;font-weight:700;left:149.10px;top:492.33px;transform:scaleX(1.0501);">Fuel Offloaded (Millions of Pounds)</span>
<span class="t" style="font-size:14.75px;color:#000;left:417.31px;top:489.11px;transform:scaleX(1.0400);">282</span>
<span class="t" style="font-size:14.75px;color:#000;left:523.91px;top:489.11px;transform:scaleX(1.0400);">912</span>
<span class="t" style="font-size:14.75px;color:#000;left:624.11px;top:489.11px;transform:scaleX(1.0400);">804</span>
<span class="t" style="font-size:14.75px;color:#000;left:722.31px;top:489.11px;transform:scaleX(1.0400);">312</span>
<span class="t" style="font-size:12.6px;color:#fff;font-weight:700;left:254.40px;top:515.53px;transform:scaleX(1.0394);">Aircraft Refuelings</span>
<span class="t" style="font-size:14.75px;color:#000;left:406.65px;top:512.91px;transform:scaleX(1.0400);">28,956</span>
<span class="t" style="font-size:14.75px;color:#000;left:513.25px;top:512.91px;transform:scaleX(1.0400);">84,381</span>
<span class="t" style="font-size:14.75px;color:#000;left:613.45px;top:512.91px;transform:scaleX(1.0400);">80,912</span>
<span class="t" style="font-size:14.75px;color:#000;left:711.65px;top:512.91px;transform:scaleX(1.0400);">28,072</span>
<span class="t" style="font-size:10.8px;color:#000;font-weight:700;left:799.80px;top:515.06px;transform:scaleX(1.0040);">* Iraq only</span>
<span class="t" style="font-size:11.5px;color:#000;font-weight:700;left:125.30px;top:679.26px;transform:scaleX(0.8500);">•</span>
<span class="t" style="font-size:11.5px;color:#000;font-weight:700;left:125.30px;top:694.06px;transform:scaleX(0.8500);">•</span>
<span class="t" style="font-size:11.2px;color:#000;font-weight:700;left:143.20px;top:679.52px;transform:scaleX(0.9490);">Some figures may have changed due to data re-calculation and re-verification</span>
<span class="t" style="font-size:11.2px;color:#000;font-weight:700;left:143.20px;top:694.72px;transform:scaleX(0.9451);">Assets under CFACC control include a compilation of aircraft from all U.S.  military branches of service, as well as Coalition aircraft; however, not all</span>
<span class="t" style="font-size:11.2px;color:#000;font-weight:700;left:143.70px;top:709.72px;transform:scaleX(0.9347);">aircraft flying in the AOR fall under CFACC control</span>
<span class="t" style="font-size:11.8px;color:#000;left:663.20px;top:713.01px;transform:scaleX(0.9027);">POC:  AFCENT (CAOC) Public Affairs – afcent.pa@afcent.af.mil</span>
<span class="t" style="font-size:22.4px;color:#fff;font-weight:700;left:13.03px;top:535.13px;transform:rotate(-90deg) scaleX(0.9265);">United States Air Forces Central Command</span>
<span class="t" style="font-size:22.4px;color:#fff;font-weight:700;left:41.73px;top:484.90px;transform:rotate(-90deg) scaleX(0.9354);">Combined Air Operations Center</span>
<span class="t" style="font-size:18.9px;color:#fff;font-weight:700;left:85.80px;top:517.20px;transform:rotate(-90deg) scaleX(0.9318);">Operation Inherent Resolve</span>
</div>
</body></html>
